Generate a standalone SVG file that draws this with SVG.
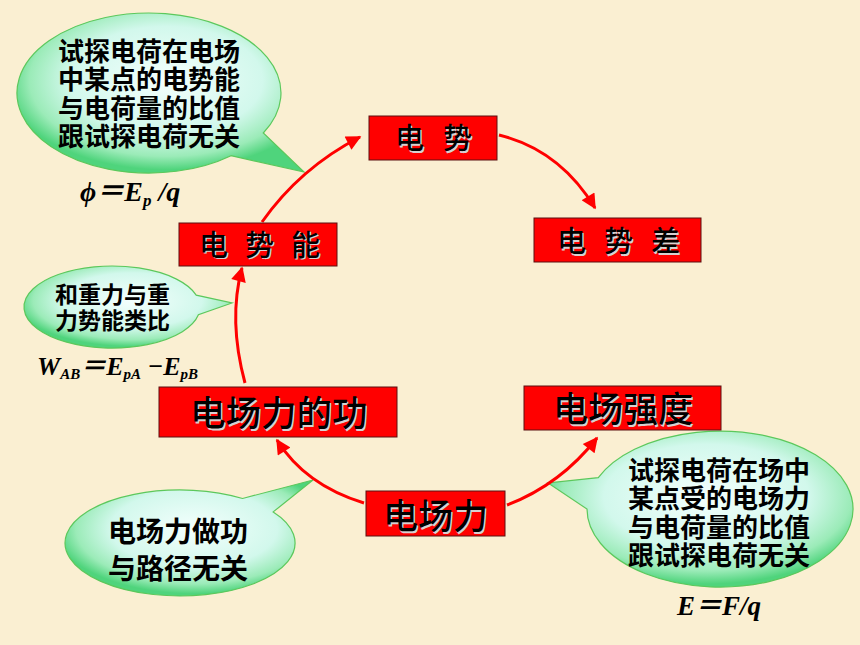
<svg xmlns="http://www.w3.org/2000/svg" width="860" height="645" viewBox="0 0 860 645">
<defs>
<radialGradient id="bub" cx="52%" cy="42%" r="56%">
<stop offset="0" stop-color="#F4FFFD"/>
<stop offset="0.6" stop-color="#D2F8EC"/>
<stop offset="0.85" stop-color="#9BEBB8"/>
<stop offset="1" stop-color="#4FD47C"/>
</radialGradient>
<marker id="ah" viewBox="0 0 10 10" refX="9" refY="5" markerWidth="18" markerHeight="15" markerUnits="userSpaceOnUse" orient="auto">
<path d="M0,0 L10,5 L0,10 z" fill="#FF0000"/>
</marker>
<style>
.bg{fill:#FAEFD2}
.box{fill:#FF0000;stroke:#5A1010;stroke-width:1}
.bt{font-family:"Noto Sans CJK SC","Noto Sans CJK JP",sans-serif;font-weight:500;fill:#000}
.sh{font-family:"Noto Sans CJK SC","Noto Sans CJK JP",sans-serif;font-weight:500;fill:#D8D0D0}
.bubble{fill:url(#bub);stroke:#5CC85C;stroke-width:1.2}
.bx{font-family:"Noto Sans CJK SC","Noto Sans CJK JP",sans-serif;font-weight:700;fill:#000}
.f{font-family:"Liberation Serif","Noto Sans CJK SC",serif;font-weight:700;font-style:italic;fill:#000}
.arr{fill:none;stroke:#FF0000;stroke-width:3;marker-end:url(#ah)}
</style>
</defs>
<rect class="bg" x="0" y="0" width="860" height="645"/>

<g id="bubble1">
<path class="bubble" d="M263.3,133 A132 80 0 1 0 231,155.7 L304,172 Z"/>
<text class="bx" font-size="26" x="58" y="60.5"><tspan x="58" y="60.5">试探电荷在电场</tspan><tspan x="58" y="89">中某点的电势能</tspan><tspan x="58" y="117.5">与电荷量的比值</tspan><tspan x="58" y="146">跟试探电荷无关</tspan></text>
</g>
<g id="formula1">
<text class="f" font-size="28" x="80" y="201">ϕ＝E<tspan font-size="17" dy="5">p</tspan><tspan dy="-5"> /q</tspan></text>
</g>
<g id="bubble2">
<path class="bubble" d="M196.2,295.1 A88 41 0 1 0 198.4,314.8 L232,303 Z"/>
<text class="bx" font-size="23" x="55" y="303"><tspan x="55" y="303">和重力与重</tspan><tspan x="55" y="329">力势能类比</tspan></text>
</g>
<g id="formula2">
<text class="f" font-size="26" x="37" y="375">W<tspan font-size="15" dy="4">AB</tspan><tspan dy="-4">＝E</tspan><tspan font-size="15" dy="4">pA</tspan><tspan dy="-4"> −E</tspan><tspan font-size="15" dy="4">pB</tspan></text>
</g>
<g id="bubble3">
<path class="bubble" d="M242.6,498.5 A115 53 0 1 0 273.2,511.9 L313,480 Z"/>
<text class="bx" font-size="28" x="108" y="542"><tspan x="108" y="542">电场力做功</tspan><tspan x="108" y="578.5">与路径无关</tspan></text>
</g>
<g id="bubble4">
<path class="bubble" d="M598.3,477.6 A133 78 0 1 1 587,509 L548,483 Z"/>
<text class="bx" font-size="26" x="628" y="480"><tspan x="628" y="480">试探电荷在场中</tspan><tspan x="628" y="508">某点受的电场力</tspan><tspan x="628" y="536.5">与电荷量的比值</tspan><tspan x="628" y="565">跟试探电荷无关</tspan></text>
</g>
<g id="formula3">
<text class="f" font-size="27" x="677" y="615">E＝F/q</text>
</g>

<g id="connectors">
<path class="arr" d="M262,222 Q300,168 360,137"/>
<path class="arr" d="M499,135 Q560,150 595,208"/>
<path class="arr" d="M245,383 Q228,320 242,268"/>
<path class="arr" d="M364,503 Q305,485 277,440"/>
<path class="arr" d="M507,505 Q560,485 597,438"/>
</g>

<g id="node-dianshi">
<rect class="box" x="369" y="116" width="128" height="44"/>
<text class="sh" font-size="29" x="396.5" y="150.5" letter-spacing="19">电势</text>
<text class="bt" font-size="29" x="395" y="149" letter-spacing="19">电势</text>
</g>
<g id="node-dianshicha">
<rect class="box" x="534" y="218" width="167" height="44"/>
<text class="sh" font-size="29" x="558.5" y="253.5" letter-spacing="18">电势差</text>
<text class="bt" font-size="29" x="557" y="252" letter-spacing="18">电势差</text>
</g>
<g id="node-dianshineng">
<rect class="box" x="179" y="223" width="158" height="43"/>
<text class="sh" font-size="29" x="200.5" y="257" letter-spacing="17">电势能</text>
<text class="bt" font-size="29" x="199" y="255.5" letter-spacing="17">电势能</text>
</g>
<g id="node-gong">
<rect class="box" x="159" y="387" width="238" height="50"/>
<text class="sh" font-size="35.5" x="191.5" y="427.5">电场力的功</text>
<text class="bt" font-size="35.5" x="190" y="426">电场力的功</text>
</g>
<g id="node-qiangdu">
<rect class="box" x="524" y="386" width="197" height="44"/>
<text class="sh" font-size="35" x="554.5" y="423.5">电场强度</text>
<text class="bt" font-size="35" x="553" y="422">电场强度</text>
</g>
<g id="node-li">
<rect class="box" x="366" y="491" width="139" height="45"/>
<text class="sh" font-size="35" x="384.5" y="530.5">电场力</text>
<text class="bt" font-size="35" x="383" y="529">电场力</text>
</g>
</svg>
